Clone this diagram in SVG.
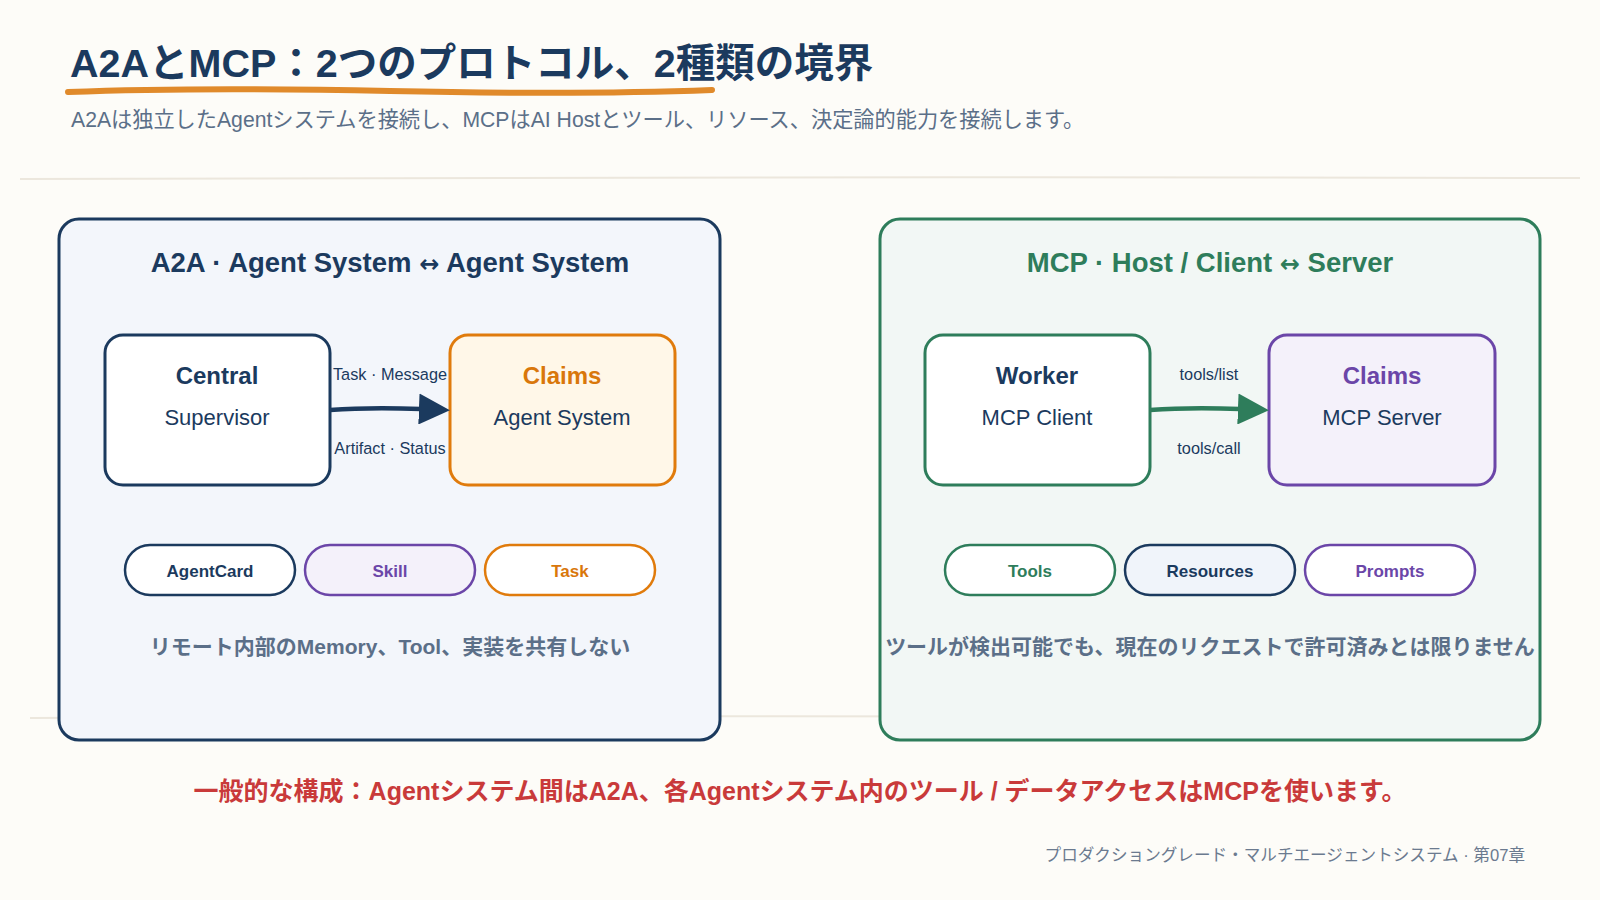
<svg xmlns="http://www.w3.org/2000/svg" width="1600" height="900" viewBox="0 0 1600 900">
<defs>
<style>
text{font-family:"Liberation Sans","Noto Sans CJK JP",sans-serif}
.title{font-size:39.5px;font-weight:700;fill:#1b3a5e}
.sub{font-size:21.2px;fill:#5b6f88}
.ptitle{font-size:27.5px;font-weight:700;text-anchor:middle}
.arr{font-family:"DejaVu Sans",sans-serif;font-size:24px}
.nt{font-size:24px;font-weight:700;text-anchor:middle}
.ns{font-size:22px;fill:#1b3a5e;text-anchor:middle}
.el{font-size:16.3px;fill:#1b3a5e;text-anchor:middle}
.pill{font-size:17px;font-weight:700;text-anchor:middle}
.cap{font-size:21px;font-weight:600;fill:#5b6f88;text-anchor:middle}
.box{stroke-width:3}
.pillr{stroke-width:2.5}
</style>
<marker id="ahN" viewBox="0 0 30 30" refX="2" refY="15" markerWidth="31" markerHeight="31" markerUnits="userSpaceOnUse" orient="auto"><path d="M0,0 L30,15 L0,30 z" fill="#1b3a5e"/></marker>
<marker id="ahG" viewBox="0 0 30 30" refX="2" refY="15" markerWidth="31" markerHeight="31" markerUnits="userSpaceOnUse" orient="auto"><path d="M0,0 L30,15 L0,30 z" fill="#2e7d5b"/></marker>
</defs>
<rect width="1600" height="900" fill="#fdfcf8"/>
<g id="header">
<text class="title" x="70" y="77">A2AとMCP：2つのプロトコル、2種類の境界</text>
<path d="M68 92 Q200 87 390 91 T712 90" fill="none" stroke="#e08a2b" stroke-width="6" stroke-linecap="round"/>
<text class="sub" x="71" y="127">A2Aは独立したAgentシステムを接続し、MCPはAI Hostとツール、リソース、決定論的能力を接続します。</text>
<path d="M20 179 Q800 176 1580 178" fill="none" stroke="#ece7dd" stroke-width="2"/>
<path d="M30 718 Q800 714 1540 719" fill="none" stroke="#ece7dd" stroke-width="2"/>
</g>
<g id="panel-a2a">
<rect x="59" y="219" width="661" height="521" rx="20" fill="#f3f6fb" stroke="#1b3a5e" stroke-width="3"/>
<text class="ptitle" x="390" y="272" fill="#1b3a5e">A2A · Agent System <tspan class="arr">↔</tspan> Agent System</text>
</g>
<g id="panel-mcp">
<rect x="880" y="219" width="660" height="521" rx="20" fill="#f2f7f5" stroke="#2e7d5b" stroke-width="3"/>
<text class="ptitle" x="1210" y="272" fill="#2e7d5b">MCP · Host / Client <tspan class="arr">↔</tspan> Server</text>
</g>
<g id="node-central">
<rect class="box" x="105" y="335" width="225" height="150" rx="18" fill="#ffffff" stroke="#1b3a5e"/>
<text class="nt" x="217" y="384" fill="#1b3a5e">Central</text>
<text class="ns" x="217" y="425">Supervisor</text>
</g>
<g id="node-claims-agent">
<rect class="box" x="450" y="335" width="225" height="150" rx="18" fill="#fff7e8" stroke="#e07b0c"/>
<text class="nt" x="562" y="384" fill="#d9770b">Claims</text>
<text class="ns" x="562" y="425">Agent System</text>
</g>
<g id="node-worker">
<rect class="box" x="925" y="335" width="225" height="150" rx="18" fill="#ffffff" stroke="#2e7d5b"/>
<text class="nt" x="1037" y="384" fill="#1b3a5e">Worker</text>
<text class="ns" x="1037" y="425">MCP Client</text>
</g>
<g id="node-claims-server">
<rect class="box" x="1269" y="335" width="226" height="150" rx="18" fill="#f4f1fa" stroke="#6b46a8"/>
<text class="nt" x="1382" y="384" fill="#6b46a8">Claims</text>
<text class="ns" x="1382" y="425">MCP Server</text>
</g>
<g id="connectors">
<path d="M330 410 Q370 407 421 409" fill="none" stroke="#1b3a5e" stroke-width="4.5" marker-end="url(#ahN)"/>
<text class="el" x="390" y="380">Task · Message</text>
<text class="el" x="390" y="454">Artifact · Status</text>
<path d="M1150 410 Q1190 407 1240 409" fill="none" stroke="#2e7d5b" stroke-width="4.5" marker-end="url(#ahG)"/>
<text class="el" x="1209" y="380">tools/list</text>
<text class="el" x="1209" y="454">tools/call</text>
</g>
<g id="pill-agentcard">
<rect class="pillr" x="125" y="545" width="170" height="50" rx="25" fill="#ffffff" stroke="#1b3a5e"/>
<text class="pill" x="210" y="577" fill="#1b3a5e">AgentCard</text>
</g>
<g id="pill-skill">
<rect class="pillr" x="305" y="545" width="170" height="50" rx="25" fill="#f4f1fa" stroke="#6b46a8"/>
<text class="pill" x="390" y="577" fill="#6b46a8">Skill</text>
</g>
<g id="pill-task">
<rect class="pillr" x="485" y="545" width="170" height="50" rx="25" fill="#ffffff" stroke="#e07b0c"/>
<text class="pill" x="570" y="577" fill="#d9770b">Task</text>
</g>
<g id="pill-tools">
<rect class="pillr" x="945" y="545" width="170" height="50" rx="25" fill="#ffffff" stroke="#2e7d5b"/>
<text class="pill" x="1030" y="577" fill="#2e7d5b">Tools</text>
</g>
<g id="pill-resources">
<rect class="pillr" x="1125" y="545" width="170" height="50" rx="25" fill="#f0f4fa" stroke="#1b3a5e"/>
<text class="pill" x="1210" y="577" fill="#1b3a5e">Resources</text>
</g>
<g id="pill-prompts">
<rect class="pillr" x="1305" y="545" width="170" height="50" rx="25" fill="#ffffff" stroke="#6b46a8"/>
<text class="pill" x="1390" y="577" fill="#6b46a8">Prompts</text>
</g>
<g id="captions">
<text class="cap" x="390" y="654">リモート内部のMemory、Tool、実装を共有しない</text>
<text class="cap" x="1210" y="654">ツールが検出可能でも、現在のリクエストで許可済みとは限りません</text>
</g>
<g id="footer">
<text x="800" y="800" font-size="25" font-weight="700" fill="#c93a3a" text-anchor="middle">一般的な構成：Agentシステム間はA2A、各Agentシステム内のツール / データアクセスはMCPを使います。</text>
<text x="1525" y="861" font-size="16.6" fill="#6b7a8f" text-anchor="end">プロダクショングレード・マルチエージェントシステム · 第07章</text>
</g>
</svg>
